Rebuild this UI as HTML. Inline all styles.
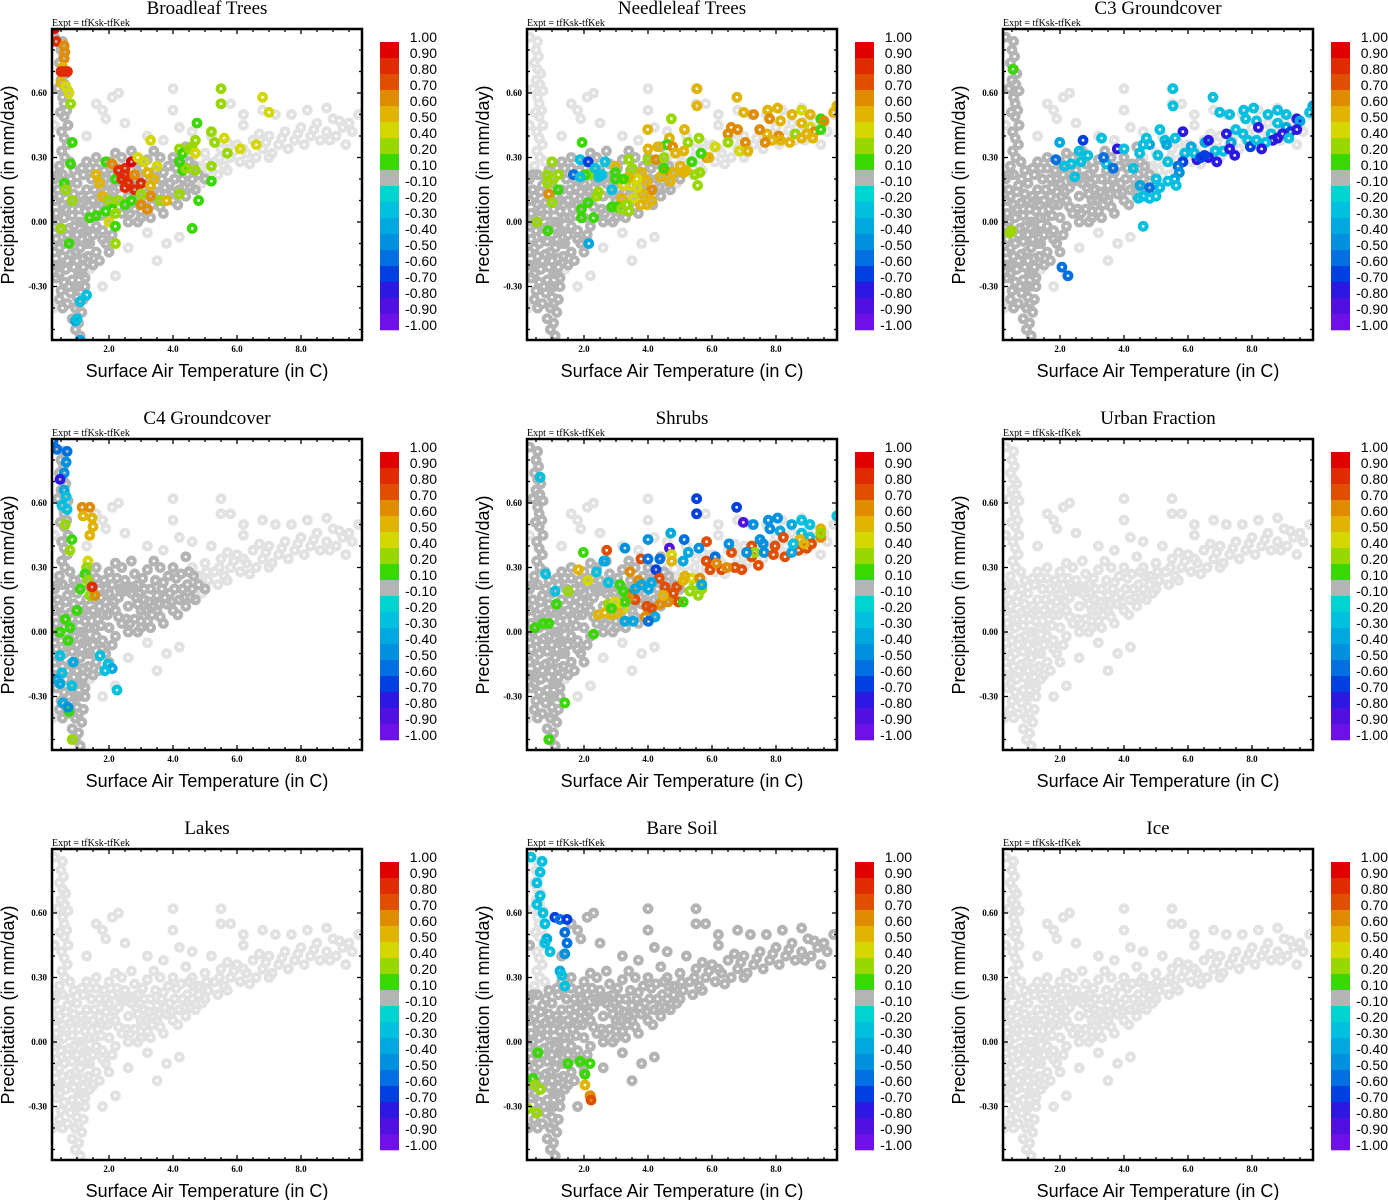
<!DOCTYPE html>
<html><head><meta charset="utf-8"><style>
html,body{margin:0;padding:0;background:#fff;}
svg{display:block;}
</style></head><body>
<svg id="fig" width="1388" height="1200" viewBox="0 0 1388 1200" xmlns="http://www.w3.org/2000/svg"></svg>
<script>
// ---------- data ----------
const panelTitles = ["Broadleaf Trees","Needleleaf Trees","C3 Groundcover","C4 Groundcover","Shrubs","Urban Fraction","Lakes","Bare Soil","Ice"];
const xTicks = [2,4,6,8];
const xTickLabels = ["2.0","4.0","6.0","8.0"];
const yTicks = [0.6,0.3,0,-0.3];
const yTickLabels = ["0.60","0.30","0.00","-0.30"];
const cbLabels = ["1.00","0.90","0.80","0.70","0.60","0.50","0.40","0.20","0.10","-0.10","-0.20","-0.30","-0.40","-0.50","-0.60","-0.70","-0.80","-0.90","-1.00"];
const cbLower = [0.9,0.8,0.7,0.6,0.5,0.4,0.2,0.1,-0.1,-0.2,-0.3,-0.4,-0.5,-0.6,-0.7,-0.8,-0.9,-1.0];
const cbColors = ["#e00000","#e02a00","#e04e00","#e08c00","#e0b400","#d4d800","#98d800","#38d800","#b4b4b4","#00d4d0","#00c0e0","#00a8e0","#0090e0","#0070e0","#0040e0","#2c18e0","#5010e0","#7010e8"];

const columnUpper = [[0.3,0.86],[0.55,0.84],[0.5,0.8],[0.58,0.77],[0.45,0.74],[0.55,0.71],[0.65,0.69],[0.5,0.66],[0.62,0.64],[0.72,0.61],[0.55,0.58],[0.6,0.55],[0.48,0.51],[0.6,0.49],[0.72,0.45],[0.52,0.42],[0.6,0.39],[0.7,0.36],[0.52,0.33],[0.62,0.3],[0.78,0.28],[0.45,0.26],[0.4,0.62],[0.68,0.52]];
const columnLower = [[0.3,0.2],[0.55,0.22],[0.8,0.2],[1.0,0.18],[0.4,0.15],[0.65,0.14],[0.9,0.13],[1.15,0.12],[0.3,0.1],[0.55,0.08],[0.8,0.09],[1.05,0.06],[0.35,0.04],[0.6,0.02],[0.85,0.03],[1.1,0.0],[0.3,-0.02],[0.5,-0.04],[0.75,-0.03],[1.0,-0.06],[1.2,-0.05],[0.35,-0.08],[0.6,-0.1],[0.85,-0.09],[1.1,-0.12],[0.3,-0.14],[0.55,-0.16],[0.8,-0.15],[1.0,-0.18],[1.2,-0.17],[0.4,-0.2],[0.65,-0.22],[0.9,-0.21],[1.15,-0.24],[0.35,-0.26],[0.6,-0.28],[0.85,-0.27],[1.05,-0.3],[0.5,-0.32],[0.8,-0.33],[1.0,-0.35],[1.2,-0.36],[0.7,-0.38],[0.95,-0.4],[1.15,-0.42],[0.85,-0.45],[1.05,-0.47],[0.95,-0.5],[1.1,-0.53],[0.45,-0.36],[1.25,-0.3],[1.3,-0.1],[1.25,0.05],[0.45,0.12],[0.7,-0.06],[0.95,0.1],[0.7,0.17],[0.45,-0.24],[0.95,-0.3],[1.2,-0.21],[0.3,-0.2],[0.4,0.0],[0.65,0.06],[0.9,-0.02],[1.15,-0.08],[0.45,-0.12],[0.7,-0.18],[0.95,-0.14],[1.05,-0.24],[0.75,-0.3],[0.55,-0.4],[1.05,-0.38],[0.4,0.22],[0.9,0.24]];
const blob = [[1.3,0.15],[1.5,0.1],[1.4,0.02],[1.6,-0.02],[1.7,0.2],[1.8,0.08],[1.9,0.14],[2.0,0.02],[2.1,0.22],[2.2,0.1],[2.3,0.16],[2.4,0.04],[2.5,0.24],[2.6,0.12],[2.7,0.18],[2.8,0.06],[2.9,0.22],[3.0,0.1],[3.1,0.15],[3.2,0.05],[3.3,0.2],[3.4,0.12],[3.5,0.17],[3.6,0.07],[3.7,0.23],[3.8,0.13],[3.9,0.18],[4.0,0.1],[4.1,0.25],[4.2,0.15],[4.3,0.2],[4.4,0.12],[4.5,0.28],[1.6,0.25],[2.0,0.28],[2.4,0.3],[2.8,0.27],[3.2,0.29],[3.6,0.3],[1.5,-0.06],[1.8,-0.04],[2.2,-0.02],[2.6,0.0],[3.0,0.02],[1.3,0.28],[1.2,0.0],[1.4,-0.1],[1.6,-0.14],[1.5,-0.2],[1.9,-0.1],[2.3,0.07],[2.9,0.13],[3.5,0.1],[1.7,0.12],[2.0,0.18],[4.6,0.2],[4.8,0.22],[1.45,0.2],[1.85,0.24],[2.15,0.14],[2.55,0.06],[2.95,0.18],[3.35,0.08],[3.75,0.16],[4.15,0.08],[4.05,0.2],[1.35,0.08],[1.75,0.03],[2.45,0.19],[3.05,0.25],[3.45,0.24],[3.85,0.26],[4.25,0.27],[4.7,0.15],[5.0,0.2],[2.75,0.21],[3.15,0.1],[1.65,0.06],
[1.2,0.22],[1.4,0.25],[1.25,0.1],[1.55,0.15],[1.75,0.16],[1.95,0.08],[2.05,0.12],[2.25,0.25],[2.35,0.2],[2.6,0.2],[2.65,0.04],[2.85,0.16],[3.0,0.05],[3.1,0.2],[3.25,0.14],[3.55,0.13],[3.65,0.2],[3.95,0.14],[4.35,0.16],[4.45,0.22],[4.55,0.16],[4.65,0.26],[1.9,0.2],[1.55,0.02],[1.8,-0.08],[2.1,-0.06],[1.3,-0.04],[1.15,0.25],[2.9,0.0],[3.3,0.02],[3.7,0.04],[1.6,0.3],[2.2,0.32],[2.7,0.33],[3.4,0.33],[4.0,0.3],[4.4,0.35],[1.35,-0.16],[1.25,-0.26],[1.7,-0.18],[2.0,-0.14]];
const band = [[4.6,0.3],[4.8,0.26],[5.0,0.32],[5.1,0.24],[5.3,0.28],[5.5,0.34],[5.6,0.26],[5.8,0.3],[6.0,0.36],[6.1,0.28],[6.3,0.32],[6.5,0.38],[6.6,0.3],[6.8,0.34],[7.0,0.4],[7.1,0.32],[7.3,0.36],[7.5,0.42],[7.6,0.34],[7.8,0.38],[8.0,0.44],[8.1,0.36],[8.3,0.4],[8.5,0.46],[8.6,0.38],[8.8,0.42],[9.0,0.48],[9.1,0.4],[9.3,0.44],[9.5,0.46],[9.6,0.42],[9.8,0.5],[5.2,0.4],[6.2,0.45],[7.2,0.5],[8.2,0.52],[8.8,0.53],[6.8,0.52],[7.7,0.5],[5.4,0.22],[5.7,0.24],[4.9,0.18],[6.4,0.27],[7.0,0.3],[5.9,0.33],[9.4,0.36],[5.05,0.28],[5.45,0.3],[6.2,0.34],[6.9,0.37],[7.4,0.39],[8.4,0.43],[9.2,0.47],[8.9,0.38],[7.9,0.41],[6.7,0.41],[5.7,0.37]];
const outliers = [[1.3,0.4],[1.6,0.55],[1.8,0.52],[2.1,0.58],[2.3,0.6],[1.9,0.48],[2.5,0.46],[3.2,0.4],[3.7,0.38],[4.0,0.62],[4.0,0.52],[4.2,0.44],[4.6,0.42],[5.8,0.55],[6.2,0.5],[3.2,-0.05],[3.8,-0.1],[4.2,-0.07],[3.5,-0.18],[1.8,-0.3],[2.2,-0.25],[2.6,-0.12],[1.4,-0.22],[0.3,0.45],[0.25,-0.4],[5.5,0.62],[5.5,0.55]];

const darkSets = [
  ["columnUpper","columnLower","blob"],
  ["columnLower","blob"],
  ["columnUpper","columnLower","blob"],
  ["columnUpper","columnLower","blob"],
  ["columnUpper","columnLower","blob"],
  [],[],
  ["columnLower","blob","band","outliers"],
  []
];

const colored1 = [[0.3,0.9,0.95],[0.35,0.84,0.85],[0.6,0.82,0.65],[0.62,0.79,0.6],[0.6,0.76,0.6],[0.55,0.72,0.55],[0.5,0.7,0.8],[0.6,0.7,0.8],[0.7,0.7,0.85],[0.5,0.65,0.5],[0.65,0.63,0.45],[0.75,0.6,0.45],[0.8,0.55,0.3],[0.85,0.37,0.15],[0.8,0.27,0.15],[0.6,0.18,0.15],[0.65,0.15,0.3],[0.85,0.1,0.3],[0.5,-0.03,0.3],[0.75,-0.1,0.15],
[1.6,0.22,0.5],[1.9,0.28,0.15],[2.1,0.27,0.6],[1.7,0.18,0.5],[1.8,0.12,0.5],[2.0,0.1,0.3],[2.2,0.2,0.15],[2.3,0.24,0.85],[2.5,0.25,0.85],[2.5,0.22,0.85],[2.4,0.2,0.8],[2.6,0.18,0.85],[2.7,0.28,0.9],[2.8,0.15,0.8],[2.5,0.16,0.8],[2.3,0.1,0.3],[2.1,0.06,0.15],[1.6,0.03,0.15],[1.9,0.05,0.15],[2.2,0.04,0.3],[2.5,0.08,0.15],[2.7,0.1,0.15],[3.0,0.08,0.65],[3.2,0.06,0.65],[3.3,0.12,0.6],[3.4,0.2,0.55],[3.2,0.23,0.55],[3.0,0.18,0.85],[3.3,0.17,0.5],[2.9,0.3,0.4],[3.1,0.28,0.4],[3.5,0.26,0.45],[3.6,0.1,0.3],[3.8,0.1,0.5],[2.8,0.22,0.6],[3.0,0.13,0.3],[2.0,0.0,0.4],[2.2,-0.02,0.15],[2.2,-0.1,0.3],[3.3,0.38,0.45],[1.4,0.02,0.15],
[4.2,0.34,0.3],[4.3,0.32,0.15],[4.5,0.34,0.3],[4.6,0.35,0.3],[4.7,0.32,0.4],[4.3,0.24,0.15],[4.4,0.25,0.3],[4.7,0.24,0.3],[4.2,0.28,0.15],[4.75,0.46,0.15],[4.7,0.38,0.3],[4.2,0.13,0.3],[4.8,0.1,0.15],[4.6,-0.03,0.15],[5.2,0.42,0.3],[5.3,0.37,0.3],[5.2,0.26,0.3],[5.2,0.19,0.15],[5.5,0.62,0.3],[5.5,0.55,0.3],[5.6,0.39,0.45],[5.7,0.32,0.3],[6.1,0.34,0.45],[6.6,0.36,0.45],[6.8,0.58,0.45],[7.0,0.51,0.45],
[1.3,-0.34,-0.3],[1.1,-0.37,-0.25],[0.95,-0.46,-0.35],[1.0,-0.45,-0.3],[1.1,-0.55,-0.4]];

const colored2 = [[5.53,0.62,0.5],[5.53,0.54,0.5],[6.78,0.58,0.5],[6.99,0.51,0.5],[7.3,0.5,0.65],[7.74,0.52,0.5],[8.05,0.53,0.5],[7.8,0.48,0.65],[8.14,0.47,0.5],[8.5,0.5,0.5],[8.8,0.52,0.4],[9.07,0.5,0.5],[9.9,0.54,0.5],[9.8,0.51,0.5],[9.4,0.48,0.15],[9.5,0.47,0.6],[8.8,0.46,0.5],[9.07,0.44,0.4],[9.2,0.42,0.65],[8.95,0.41,0.5],[9.4,0.43,0.15],[8.6,0.41,0.3],[9.15,0.39,0.5],[8.8,0.39,0.5],[8.43,0.37,0.5],[8.08,0.4,0.65],[7.72,0.41,0.5],[7.87,0.38,0.5],[7.66,0.37,0.65],[7.49,0.43,0.65],[8.14,0.38,0.5],[6.5,0.41,0.65],[6.6,0.44,0.65],[6.8,0.43,0.65],[7.04,0.37,0.65],[6.86,0.33,0.4],[7.12,0.33,0.5],[6.5,0.37,0.3],[6.1,0.35,0.4],[5.84,0.3,0.6],[5.9,0.3,0.5],
[4.73,0.48,0.3],[5.14,0.43,0.5],[5.59,0.39,0.3],[5.25,0.37,0.3],[3.99,0.43,0.5],[4.67,0.39,0.5],[4.59,0.36,0.15],[4.77,0.35,0.65],[5.12,0.33,0.5],[4.86,0.32,0.5],[4.31,0.35,0.5],[4.0,0.34,0.5],[4.0,0.29,0.3],[4.25,0.29,0.65],[4.5,0.3,0.3],[5.66,0.32,0.15],[5.37,0.28,0.15],[5.62,0.23,0.3],[5.55,0.17,0.3],[5.2,0.24,0.5],
[4.54,0.24,0.6],[4.8,0.23,0.5],[5.01,0.26,0.5],[5.12,0.23,0.5],[4.39,0.21,0.5],[4.7,0.19,0.5],[4.12,0.15,0.65],[3.97,0.19,0.5],[3.81,0.23,0.5],[3.66,0.2,0.4],[3.86,0.13,0.5],[3.97,0.08,0.5],[4.12,0.1,0.5],[3.76,0.08,0.5],[3.55,0.11,0.4],[3.66,0.16,0.4],[3.45,0.17,0.4],[3.34,0.2,0.3],[3.23,0.17,0.4],[3.18,0.11,0.5],[3.34,0.08,0.3],[2.98,0.26,0.5],[3.4,0.21,0.5],[3.5,0.25,0.3],[3.03,0.07,0.15],[2.87,0.07,0.15],[3.18,0.06,0.3],[3.4,0.05,0.3],[3.23,0.2,0.15],[2.98,0.23,0.15],[3.4,0.29,0.3],[4.49,0.25,0.15],[5.47,0.22,0.3],
[1.94,0.37,0.15],[1.0,0.28,0.3],[0.85,0.22,0.3],[1.05,0.2,0.3],[1.2,0.22,0.3],[0.86,0.18,0.3],[1.19,0.15,0.15],[0.9,0.13,0.65],[1.0,0.09,0.3],[0.53,0.0,0.3],[0.87,-0.04,0.15],[1.92,0.06,0.15],[2.13,0.09,0.15],[2.3,0.02,0.15],[1.92,0.02,0.15],[2.4,0.12,0.3],[2.45,0.14,0.3],[2.17,0.22,0.3],[2.04,0.22,0.15],[2.98,0.2,0.15],
[1.88,0.29,-0.3],[2.13,0.28,-0.7],[1.67,0.22,-0.6],[1.88,0.21,-0.3],[2.35,0.25,-0.3],[2.46,0.21,-0.25],[2.66,0.28,-0.3],[2.56,0.22,-0.25],[2.87,0.15,-0.3],[2.15,-0.1,-0.35]];

const colored3 = [[5.53,0.62,-0.25],[5.53,0.54,-0.25],[6.78,0.58,-0.3],[6.99,0.51,-0.3],[7.3,0.5,-0.25],[7.74,0.52,-0.25],[8.05,0.53,-0.25],[7.8,0.48,-0.25],[8.14,0.47,-0.25],[8.5,0.5,-0.25],[8.8,0.52,-0.25],[9.07,0.5,-0.3],[9.9,0.54,-0.35],[9.8,0.51,-0.25],[9.4,0.48,-0.8],[9.5,0.47,-0.4],[8.8,0.46,-0.25],[9.07,0.44,-0.35],[9.2,0.42,-0.7],[8.95,0.41,-0.8],[9.4,0.43,-0.8],[8.6,0.41,-0.3],[9.15,0.39,-0.25],[8.8,0.39,-0.8],[8.65,0.38,-0.8],[8.43,0.37,-0.25],[8.2,0.44,-0.8],[7.72,0.41,-0.25],[7.87,0.38,-0.25],[7.95,0.35,-0.7],[8.14,0.38,-0.3],[8.3,0.34,-0.8],[7.49,0.43,-0.3],[7.2,0.41,-0.8],[7.35,0.37,-0.4],[6.53,0.37,-0.4],[6.64,0.38,-0.8],[7.1,0.33,-0.3],[6.85,0.33,-0.3],[7.3,0.34,-0.8],[7.46,0.31,-0.8],[6.9,0.28,-0.8],[6.64,0.3,-0.8],[6.52,0.31,-0.7],[6.28,0.29,-0.8],[6.1,0.35,-0.35],[6.2,0.32,-0.3],[6.4,0.3,-0.7],[5.9,0.32,-0.3],[5.84,0.42,-0.8],[5.6,0.39,-0.3],[5.84,0.28,-0.7],[5.69,0.26,-0.6],[5.73,0.23,-0.5],[5.58,0.2,-0.4],[5.63,0.17,-0.25],[5.37,0.19,-0.25],[5.37,0.28,-0.25],[5.12,0.43,-0.25],[5.28,0.38,-0.3],[5.33,0.36,-0.4],
[5.01,0.2,-0.3],[5.12,0.16,-0.3],[5.0,0.12,-0.25],[4.8,0.11,-0.25],[4.6,0.12,-0.25],[4.45,0.11,-0.25],[4.5,0.17,-0.4],[4.8,0.16,-0.6],[5.06,0.31,-0.3],[4.8,0.36,-0.4],[4.7,0.39,-0.3],[4.6,0.36,-0.25],[4.49,0.32,-0.25],[4.29,0.25,-0.25],[3.79,0.34,-0.8],[4.0,0.34,-0.25],[4.6,-0.02,-0.25],[3.3,0.39,-0.25],[2.72,0.38,-0.7],[1.99,0.37,-0.4],[1.87,0.29,-0.6],[2.6,0.33,-0.25],[2.66,0.28,-0.25],[2.35,0.27,-0.25],[2.14,0.26,-0.25],[2.46,0.21,-0.25],[2.87,0.31,-0.25],[3.45,0.27,-0.25],[3.66,0.25,-0.6],[3.36,0.3,-0.6],[2.06,-0.21,-0.6],[2.25,-0.25,-0.6],
[0.53,0.71,0.15],[0.48,-0.04,0.3],[0.43,-0.05,0.3]];

const colored4 = [[0.25,0.89,-0.6],[0.37,0.85,-0.6],[0.69,0.84,-0.6],[0.66,0.79,-0.5],[0.6,0.74,-0.5],[0.47,0.71,-0.8],[0.6,0.66,-0.4],[0.66,0.63,-0.3],[0.53,0.59,-0.3],[0.69,0.57,-0.25],
[1.16,0.58,0.6],[1.4,0.58,0.6],[1.47,0.53,0.5],[1.5,0.49,0.5],[1.19,0.54,0.5],[1.4,0.45,0.5],[0.63,0.5,0.3],[0.78,0.38,0.3],[0.84,0.43,0.15],
[1.34,0.33,0.4],[1.3,0.3,0.3],[1.25,0.27,0.15],[1.34,0.24,0.3],[1.1,0.2,0.15],[1.4,0.17,0.3],[1.56,0.17,0.6],[1.47,0.21,0.8],[1.0,0.1,0.15],[0.63,0.06,0.15],[0.78,0.02,0.15],[0.72,-0.04,0.15],[0.47,0.0,0.15],[0.75,-0.37,0.15],[0.85,-0.5,0.3],
[0.47,-0.11,-0.3],[0.88,-0.14,-0.4],[0.53,-0.19,-0.3],[0.37,-0.22,-0.35],[0.47,-0.24,-0.4],[0.84,-0.25,-0.3],[0.56,-0.33,-0.4],[0.72,-0.35,-0.5],[1.97,-0.15,-0.3],[2.1,-0.17,-0.4],[1.87,-0.18,-0.3],[2.25,-0.27,-0.3],[1.72,-0.11,-0.3]];

const colored5 = [[5.52,0.62,-0.7],[5.52,0.55,-0.7],[6.77,0.58,-0.7],[6.98,0.51,-0.85],[7.29,0.5,-0.5],[7.76,0.52,-0.45],[8.05,0.53,-0.45],[7.81,0.48,-0.45],[8.13,0.47,-0.4],[8.49,0.5,-0.35],[8.8,0.52,-0.25],[9.06,0.5,-0.25],[9.9,0.54,-0.3],[9.4,0.48,0.5],[9.4,0.44,0.6],[9.4,0.46,0.3],[8.8,0.46,-0.3],[9.06,0.44,-0.3],[8.75,0.43,0.5],[9.11,0.41,0.75],[8.96,0.39,0.75],[8.7,0.38,0.75],[8.28,0.35,0.75],[7.97,0.4,0.75],[8.23,0.44,0.75],[7.45,0.31,0.75],[7.24,0.35,0.75],[6.93,0.29,0.75],[6.72,0.3,0.75],[6.61,0.37,0.75],[7.24,0.4,0.75],[7.34,0.37,0.3],[5.83,0.42,0.75],[5.59,0.39,-0.5],[5.13,0.43,-0.6],[4.71,0.46,-0.35],[4.67,0.39,-0.85],[4.0,0.43,-0.45],[3.28,0.39,-0.45],[2.71,0.38,0.75],[1.98,0.37,0.15],[1.83,0.29,0.5],[2.12,0.24,0.4],[1.51,0.19,0.3],[2.62,0.33,-0.4],[3.78,0.34,0.75],[4.0,0.34,-0.6],[4.37,0.34,-0.6],[4.25,0.29,-0.7],[4.35,0.25,0.75],[4.74,0.36,0.4],[4.74,0.33,0.5],[5.1,0.33,-0.4],[5.26,0.37,-0.4],[5.82,0.33,0.75],[6.1,0.35,-0.6],[5.94,0.29,0.75],[6.3,0.29,0.75],[6.14,0.32,0.6],[6.46,0.3,0.6],[6.53,0.41,-0.5],[7.08,0.37,-0.5],[7.5,0.43,-0.5],[7.6,0.41,-0.45],[7.63,0.37,-0.5],[7.92,0.36,0.75],[8.49,0.37,-0.4],[8.54,0.41,-0.3],[8.88,0.41,0.5],
[3.44,0.28,0.6],[3.7,0.24,0.6],[4.53,0.21,0.75],[4.9,0.21,0.75],[4.79,0.18,0.75],[4.95,0.14,0.75],[4.63,0.14,0.65],[4.38,0.13,0.65],[4.11,0.11,0.75],[3.96,0.12,0.75],[3.6,0.15,0.75],[3.5,0.18,0.75],[3.39,0.16,0.6],[3.23,0.11,0.45],[3.07,0.09,0.55],[2.86,0.08,0.55],[2.65,0.09,0.55],[2.44,0.08,0.55],[2.76,0.13,0.3],[3.12,0.22,0.15],[3.23,0.19,0.15],[3.91,0.07,0.6],[4.22,0.07,-0.4],[4.01,0.05,-0.6],[4.48,0.17,0.5],[5.1,0.14,0.15],[5.31,0.19,0.3],[5.57,0.17,0.3],[5.68,0.2,0.3],[5.47,0.22,0.3],[5.36,0.25,0.4],[5.1,0.24,0.5],[5.15,0.26,0.5],[5.62,0.25,0.6],[5.68,0.22,-0.35],[3.8,0.22,-0.35],[4.11,0.23,-0.35],[4.01,0.2,-0.4],[3.59,0.2,-0.35],[3.28,0.14,0.15],[2.97,0.14,0.4],[2.86,0.11,0.15],[3.28,0.05,-0.4],[3.54,0.05,-0.35],[2.65,0.33,-0.4],[2.76,0.23,-0.3],[2.39,0.28,-0.3],
[1.14,0.13,0.15],[0.73,0.04,0.15],[0.47,0.02,0.15],[0.9,0.04,0.15],[2.3,-0.01,0.15],[1.4,-0.33,0.15],[0.9,-0.5,0.15],[0.8,0.27,-0.3],[0.63,0.72,-0.3],[1.1,0.19,-0.3]];

const colored8 = [[0.34,0.86,-0.25],[0.69,0.84,-0.25],[0.63,0.79,-0.25],[0.53,0.74,-0.25],[0.63,0.68,-0.25],[0.53,0.64,-0.3],[0.72,0.6,-0.3],[0.78,0.55,-0.3],[0.84,0.48,-0.4],[1.09,0.58,-0.7],[1.25,0.57,-0.6],[1.47,0.57,-0.7],[1.4,0.51,-0.6],[1.47,0.46,-0.6],[1.4,0.41,-0.5],[1.25,0.33,-0.4],[1.31,0.31,-0.3],[1.4,0.26,-0.25],[0.78,0.46,-0.3],[0.94,0.42,-0.3],
[0.56,-0.05,0.15],[0.41,-0.17,0.15],[0.47,-0.2,0.3],[0.63,-0.22,0.3],[0.25,-0.31,0.3],[0.53,-0.33,0.3],[1.5,-0.1,0.15],[1.88,-0.09,0.15],[2.03,-0.15,0.15],[2.19,-0.1,0.15],[2.03,-0.2,0.5],[2.19,-0.25,0.6],[2.22,-0.27,0.75]];

const coloredSets = [colored1,colored2,colored3,colored4,colored5,[],[],colored8,[]];
const baseSets = {columnUpper, columnLower, blob, band, outliers};

// ---------- drawing ----------
const NS = "http://www.w3.org/2000/svg";
const fig = document.getElementById('fig');
function mk(tag, attrs, parent){ const e=document.createElementNS(NS,tag); for(const k in attrs) e.setAttribute(k,attrs[k]); (parent||fig).appendChild(e); return e; }
const PL=52, PR=362, PT=29, PB=340;
function xS(v){ return 45 + 32*v; }
function yS(v){ return 222 - 215*v; }
function colorFor(v){ for(let i=0;i<cbLower.length;i++){ if(v>=cbLower[i]) return cbColors[i]; } return cbColors[cbColors.length-1]; }

const offX=[0,475,951], offY=[0,410,820];
const defs = mk('defs',{});
const cp = mk('clipPath',{id:'pc'},defs);
mk('rect',{x:PL,y:PT,width:PR-PL,height:PB-PT},cp);

panelTitles.forEach((title,idx)=>{
  const g = mk('g',{transform:`translate(${offX[idx%3]},${offY[Math.floor(idx/3)]})`});
  
  
  const t = mk('text',{x:207,y:14,'text-anchor':'middle','font-family':'Liberation Serif, serif','font-size':19},g);
  t.textContent = title;
  
  
  const ex = mk('text',{x:52,y:26,'font-family':'Liberation Serif, serif','font-size':10},g);
  ex.textContent = 'Expt = tfKsk-tfKek';
  
  
  const pg = mk('g',{'clip-path':'url(#pc)'},g);
  
  
  function ring(x,y,col,name){
    const c = mk('circle',{cx:xS(x),cy:yS(y),r:3.4,fill:'none',stroke:col,'stroke-width':4},pg);
    
    
  }
  for(const k in baseSets) baseSets[k].forEach(p=>ring(p[0],p[1],'#e2e2e2','point-light'));
  darkSets[idx].forEach(k=>baseSets[k].forEach(p=>ring(p[0],p[1],'#b4b4b4','point-dark')));
  coloredSets[idx].forEach(p=>ring(p[0],p[1],colorFor(p[2]),'point-colored'));
  const box = mk('rect',{x:PL,y:PT,width:PR-PL,height:PB-PT,fill:'none',stroke:'#000','stroke-width':2.5},g);
  
  
  for(let v=0.5; v<9.8; v+=0.5){
    const major = Math.abs(v%2)<1e-6;
    const L = major?5:3, X=xS(v);
    mk('line',{x1:X,y1:PB,x2:X,y2:PB-L,stroke:'#000','stroke-width':1.3},g);
    mk('line',{x1:X,y1:PT,x2:X,y2:PT+L,stroke:'#000','stroke-width':1.3},g);
  }
  xTicks.forEach((v,i)=>{
    const tl = mk('text',{x:xS(v),y:352,'text-anchor':'middle','font-family':'Liberation Serif, serif','font-size':9,'font-weight':'bold'},g);
    tl.textContent = xTickLabels[i];
    
    
  });
  for(let k=-5;k<=8;k++){
    const v=k/10, Y=yS(v); if(Y<PT+1||Y>PB-1) continue;
    const major = (k%3===0);
    const L = major?5:3;
    mk('line',{x1:PL,y1:Y,x2:PL+L,y2:Y,stroke:'#000','stroke-width':1.3},g);
    mk('line',{x1:PR,y1:Y,x2:PR-L,y2:Y,stroke:'#000','stroke-width':1.3},g);
  }
  yTicks.forEach((v,i)=>{
    const tl = mk('text',{x:47,y:yS(v)+3,'text-anchor':'end','font-family':'Liberation Serif, serif','font-size':9,'font-weight':'bold'},g);
    tl.textContent = yTickLabels[i];
    
    
  });
  const xt = mk('text',{x:207,y:377,'text-anchor':'middle','font-family':'Liberation Sans, sans-serif','font-size':18},g);
  xt.textContent = 'Surface Air Temperature (in C)';
  
  
  const yt = mk('text',{x:0,y:0,'text-anchor':'middle','font-family':'Liberation Sans, sans-serif','font-size':18,transform:'translate(14,185) rotate(-90)'},g);
  yt.textContent = 'Precipitation (in mm/day)';
  
  
  const cb = mk('g',{},g);
  
  
  cbColors.forEach((c,i)=>{
    const r = mk('rect',{x:380,y:42+16*i,width:19,height:16.3,fill:c},cb);
    
    
  });
  cbLabels.forEach((s,i)=>{
    const tl = mk('text',{x:437,y:42+16*i,'text-anchor':'end','font-family':'Liberation Sans, sans-serif','font-size':14},cb);
    tl.textContent = s;
    
    
  });
});
</script>
</body></html>
